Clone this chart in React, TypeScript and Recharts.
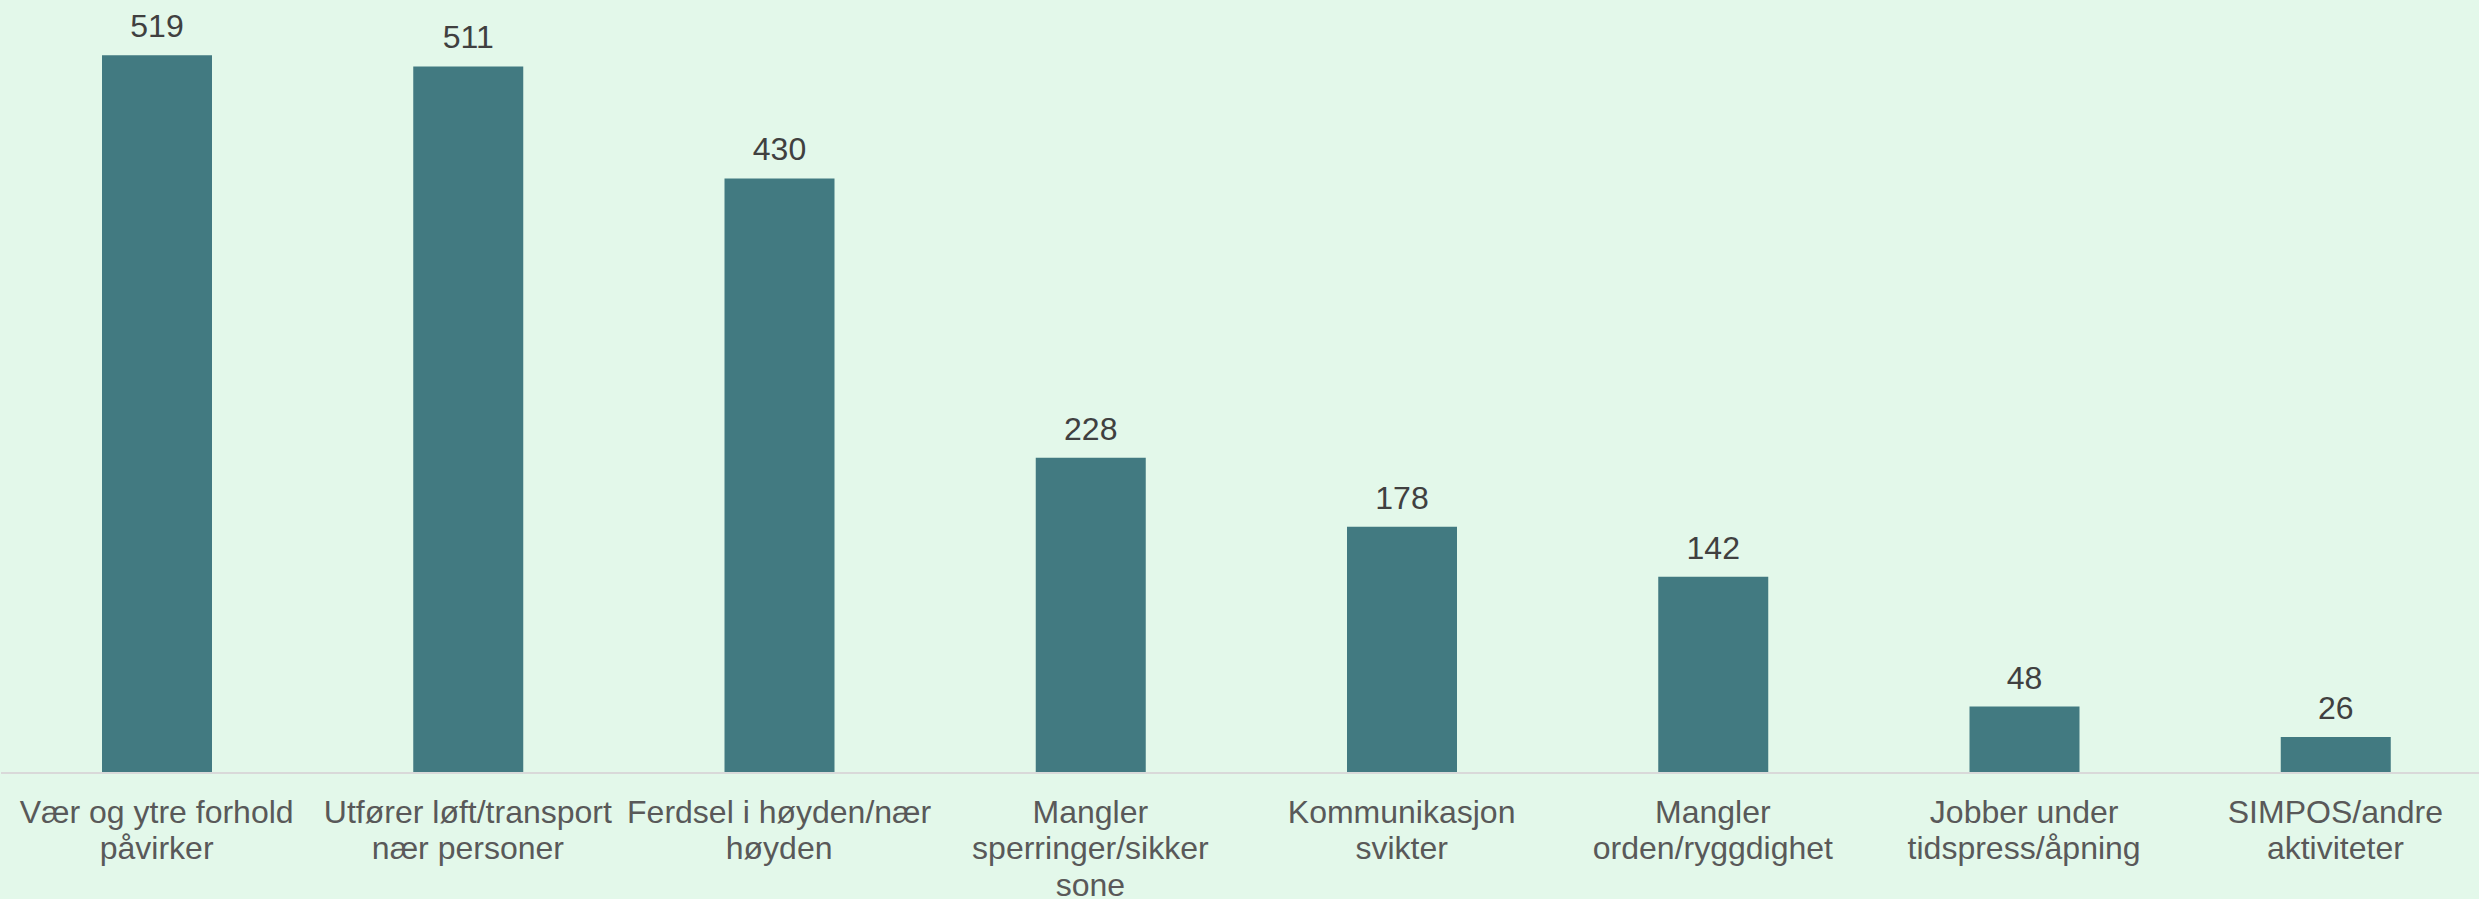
import { BarChart, Bar, XAxis, YAxis, LabelList } from "recharts"

const categories = [
  "Vær og ytre forhold\npåvirker",
  "Utfører løft/transport\nnær personer",
  "Ferdsel i høyden/nær\nhøyden",
  "Mangler\nsperringer/sikker\nsone",
  "Kommunikasjon\nsvikter",
  "Mangler\norden/ryggdighet",
  "Jobber under\ntidspress/åpning",
  "SIMPOS/andre\naktiviteter",
]

const counts = [519, 511, 430, 228, 178, 142, 48, 26]

const data = categories.map((name, i) => ({ name, value: counts[i] }))

const FONT = "'Liberation Sans', Arial, sans-serif"

function CategoryTick(props: any) {
  const { x, y, payload } = props
  const lines = String(payload.value).split("\n")
  return (
    <g>
      {lines.map((line, i) => (
        <text
          key={i}
          x={x}
          y={y + 50 + i * 36.4}
          textAnchor="middle"
          fontSize={32}
          fontFamily={FONT}
          fill="#595959"
        >
          {line}
        </text>
      ))}
    </g>
  )
}

function ValueLabel(props: any) {
  const { x, y, width, value } = props
  return (
    <text
      x={x + width / 2}
      y={y - 18}
      textAnchor="middle"
      fontSize={32}
      fontFamily={FONT}
      fill="#404040"
    >
      {value}
    </text>
  )
}

export default function App() {
  return (
    <div
      style={{
        position: "absolute",
        left: 0,
        top: 0,
        width: 2479,
        height: 899,
        overflow: "hidden",
        background: "#E3F8EA",
      }}
    >
      <BarChart
        width={2491}
        height={899}
        data={data}
        margin={{ top: 0, right: 0, left: 1, bottom: 0 }}
      >
        <XAxis
          dataKey="name"
          height={126}
          interval={0}
          tickLine={false}
          tickSize={0}
          tickMargin={0}
          axisLine={{ stroke: "#D9D9D9", strokeWidth: 2 }}
          tick={<CategoryTick />}
        />
        <YAxis hide domain={[0, 559]} />
        <Bar dataKey="value" fill="#427A81" barSize={110} isAnimationActive={false}>
          <LabelList dataKey="value" content={<ValueLabel />} />
        </Bar>
      </BarChart>
    </div>
  )
}
